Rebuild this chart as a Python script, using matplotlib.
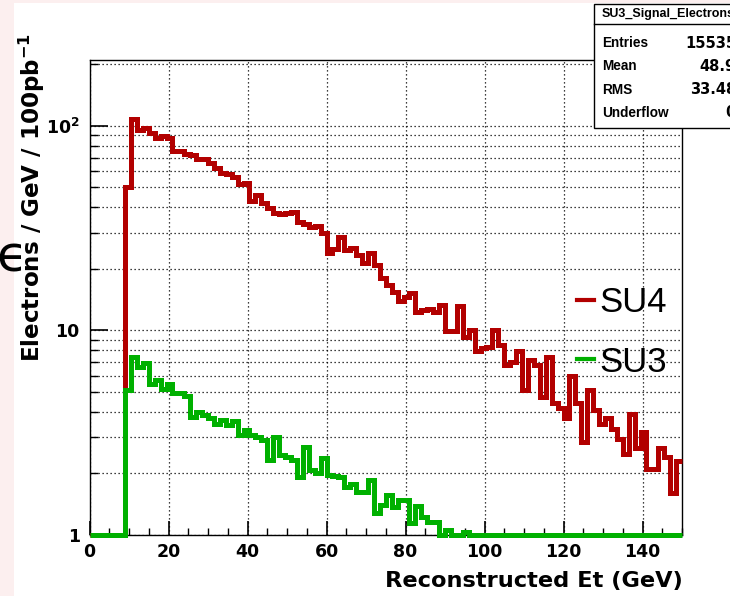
import numpy as np
import matplotlib
matplotlib.use("Agg")
import matplotlib.pyplot as plt
from matplotlib.patches import Rectangle
from matplotlib.lines import Line2D
from matplotlib.ticker import FixedLocator, NullFormatter

# ---------------- data ----------------
bin_edges = np.arange(0, 151.5, 1.5)   # 100 bins of 1.5 GeV

su4_values = [0, 0, 0, 0, 0, 0,
              50, 108, 96, 98, 92, 87, 89, 87, 75, 75,
              73, 72, 69, 69, 66, 62, 59, 58, 56, 52,
              52.5, 43, 46, 42, 39.5, 37.5, 37, 37.5, 38, 34,
              33, 32, 32.5, 30, 24, 25, 28.5, 24.8, 25.4, 23.4,
              21.3, 23.8, 20.9, 18, 16.7, 15.5, 13.9, 14.6, 15.2, 12.3,
              12.6, 12.8, 12.3, 13.3, 9.9, 9.9, 13.1, 9.3, 10.1, 7.9,
              8.2, 8.3, 10.1, 8.5, 6.8, 7.0, 7.9, 5.1, 7.2, 6.8,
              4.75, 7.4, 4.4, 4.2, 3.75, 6.0, 4.4, 2.85, 5.1, 4.1,
              3.5, 3.75, 3.3, 2.95, 2.5, 3.9, 2.65, 3.2, 2.1, 2.1,
              2.65, 2.4, 1.6, 2.3]

su3_values = [0, 0, 0, 0, 0, 0,
              5.1, 7.45, 6.65, 6.9, 5.5, 5.7, 5.2, 5.5, 4.93, 4.93,
              4.8, 3.79, 4.0, 3.85, 3.72, 3.5, 3.65, 3.45, 3.6, 3.08,
              3.26, 3.08, 3.0, 2.9, 2.33, 3.03, 2.46, 2.4, 2.33, 1.93,
              2.7, 2.08, 2.0, 2.37, 1.97, 1.95, 1.93, 1.72, 1.78, 1.63,
              1.63, 1.86, 1.28, 1.4, 1.57, 1.37, 1.48, 1.48, 1.14, 1.38,
              1.23, 1.16, 1.16, 0.9, 1.06, 0.9, 0.9, 1.04, 0, 0,
              0, 0, 0, 0, 0, 0, 0, 0, 0, 0,
              0, 0, 0, 0, 0, 0, 0, 0, 0, 0,
              0, 0, 0, 0, 0, 0, 0, 0, 0, 0,
              0, 0, 0, 0]

series_names = ["SU4", "SU3"]
x_major_ticks = [0, 20, 40, 60, 80, 100, 120, 140]
y_major_ticks = [1, 10, 100]
y_tick_labels = ["1", "10", r"10$^{\mathbf{2}}$"]

stats_title = "SU3_Signal_Electrons"
stats_labels = ["Entries", "Mean", "RMS", "Underflow"]
stats_values = ["15535", "48.9", "33.48", "0"]

# ---------------- figure ----------------
W, H = 730, 596
plt.rcParams["mathtext.fontset"] = "dejavusans"
plt.rcParams["mathtext.default"] = "bf"

fig = plt.figure(figsize=(W / 100, H / 100), dpi=100, facecolor="#fcefef")

def fx(px):
    return px / W

def fy(py):
    return 1 - py / H

# white panel
fig.patches.append(Rectangle((fx(14), 0), 1, fy(3), transform=fig.transFigure,
                             facecolor="white", edgecolor="none", zorder=-5))

top_px, bot_px = 60, 535
ax = fig.add_axes([fx(89.5), fy(bot_px), (682 - 89.5) / W, (bot_px - top_px) / H])
ax.set_zorder(1)
ax.set_facecolor("white")
ax.set_yscale("log")
ymin, ymax = 1.0, 210.0
ax.set_xlim(0, 150)
ax.set_ylim(ymin, ymax)

red = "#b20000"
green = "#00b000"
lw = 3.6

ax.stairs(np.clip(su4_values, ymin, None), bin_edges, baseline=None,
          color=red, linewidth=lw, clip_on=False, zorder=3)
ax.stairs(np.clip(su3_values, ymin, None), bin_edges, baseline=None,
          color=green, linewidth=lw, clip_on=False, zorder=4)

# ticks
ax.xaxis.set_major_locator(FixedLocator(x_major_ticks))
ax.xaxis.set_minor_locator(FixedLocator(np.arange(0, 151, 5)))
ax.yaxis.set_major_locator(FixedLocator(y_major_ticks))
minor_y = [m * 10 ** d for d in range(0, 3) for m in range(2, 10) if m * 10 ** d < ymax]
ax.yaxis.set_minor_locator(FixedLocator(minor_y))
ax.yaxis.set_minor_formatter(NullFormatter())
ax.set_yticklabels(y_tick_labels)
ax.set_xticklabels([str(t) for t in x_major_ticks])

ax.tick_params(axis="y", which="major", direction="in", length=13, width=1.2,
               pad=7, labelsize=12.5)
ax.tick_params(axis="y", which="minor", direction="in", length=6, width=1.0)
ax.tick_params(axis="x", which="major", direction="in", length=10, width=1.2,
               pad=6, labelsize=12.5)
ax.tick_params(axis="x", which="minor", direction="in", length=5, width=1.0)
for lab in ax.get_xticklabels() + ax.get_yticklabels():
    lab.set_fontfamily("DejaVu Sans")
    lab.set_fontweight("bold")

ax.grid(True, which="major", axis="both", color="black", linestyle=(0, (1, 2.2)),
        linewidth=0.9)
ax.grid(True, which="minor", axis="y", color="black", linestyle=(0, (1, 2.2)),
        linewidth=0.9)
ax.set_axisbelow(True)
for s in ax.spines.values():
    s.set_linewidth(1.0)
    s.set_color("black")

# axis titles
fig.text(fx(683), fy(581), "Reconstructed Et (GeV)", ha="right", va="center",
         fontsize=16.2, fontweight="bold", family="DejaVu Sans")
fig.text(fx(32), fy(198), r"Electrons / GeV / 100pb$^{\mathbf{-1}}$", rotation=90,
         ha="center", va="center", fontsize=16.6, fontweight="bold",
         family="DejaVu Sans")

# legend
for yy, col, name in [(300, red, series_names[0]), (359, green, series_names[1])]:
    fig.add_artist(Line2D([fx(577), fx(594)], [fy(yy), fy(yy)], color=col,
                          linewidth=3.0, transform=fig.transFigure))
    fig.text(fx(599), fy(yy + 3), name, ha="left", va="center", fontsize=25,
             family="Liberation Sans")

# stray glyph on the left (partly cut by the left edge, as in the reference)
fig.text(fx(-4), fy(258), "ϵ", ha="left", va="center", fontsize=36,
         family="DejaVu Sans")

# stats box
bx0, by0, bx1, by1 = 593.5, 4, 760, 128
fig.patches.append(Rectangle((fx(bx0), fy(by1)), fx(bx1) - fx(bx0), fy(by0) - fy(by1),
                             transform=fig.transFigure, facecolor="white",
                             edgecolor="black", linewidth=1.0, zorder=5))
fig.add_artist(Line2D([fx(bx0), fx(bx1)], [fy(24), fy(24)], color="black",
                      linewidth=1.0, transform=fig.transFigure, zorder=6))
fig.text(fx(602), fy(14.5), stats_title, ha="left", va="center", fontsize=9,
         fontweight="bold", family="Liberation Sans", zorder=7)
for i, (lab, val) in enumerate(zip(stats_labels, stats_values)):
    yy = 43 + i * 23.3
    fig.text(fx(602), fy(yy), lab, ha="left", va="center", fontsize=9.8,
             fontweight="bold", family="Liberation Sans", zorder=7)
    fig.text(fx(736), fy(yy), val, ha="right", va="center", fontsize=10.5,
             fontweight="bold", family="DejaVu Sans", zorder=7)

fig.savefig("out.png", dpi=100)
